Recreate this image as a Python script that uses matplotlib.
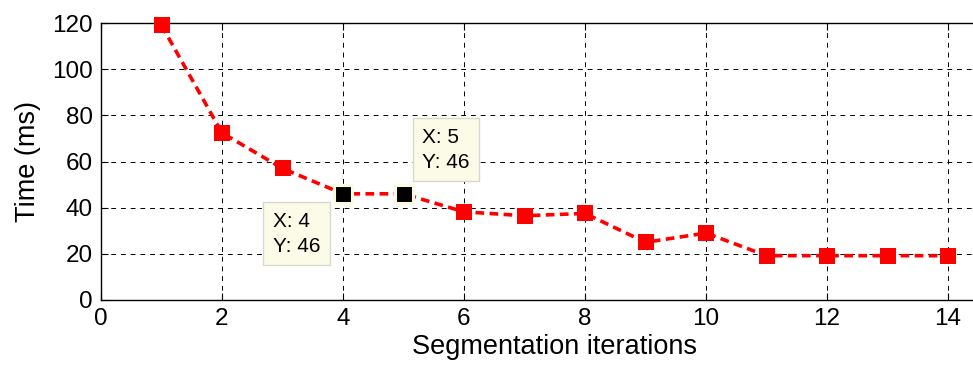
import matplotlib.pyplot as plt

plt.rcParams['font.family'] = ['Liberation Sans', 'DejaVu Sans']

# segmentation timing per iteration count
iterations = [1, 2, 3, 4, 5, 6, 7, 8, 9, 10, 11, 12, 13, 14]
time_ms = [119, 72.4, 57, 46, 46, 38.2, 36.5, 37.5, 25, 29, 19.2, 19.2, 19.2, 19.2]

# data tips: (x, y, text anchor in data coords)
tips = [(4, 46, (2.84, 38.3)), (5, 46, (5.31, 74.7))]

W, H = 973, 372
fig = plt.figure(figsize=(W / 100, H / 100), dpi=100)
ax = fig.add_axes([101 / W, 1 - 300 / H, 907.5 / W, 277 / H])

ax.plot(iterations, time_ms, color='red', linestyle=(0, (2.4, 1.5)), linewidth=2.6,
        marker='s', markersize=12, markeredgewidth=0, zorder=3, clip_on=False)

for x, y, (bx, by) in tips:
    ax.plot(x, y, marker='s', color='black', markersize=12.5,
            markeredgecolor='#fbfbe0', markeredgewidth=2.2, zorder=4)
    ax.text(bx, by, f'X: {x}\nY: {y}', fontsize=15, linespacing=1.4,
            va='top', ha='left', zorder=5,
            bbox=dict(boxstyle='square,pad=0.45', facecolor='#fbfbe8',
                      edgecolor='#d8d8d0', linewidth=1))

ax.set_xlim(0, 15)
ax.set_ylim(0, 120)
ax.set_xticks(range(0, 15, 2))
ax.set_yticks(range(0, 121, 20))
ax.grid(True, color='black', linestyle=(0, (5, 5)), linewidth=0.7)
ax.tick_params(direction='in', length=5, labelsize=17.5, top=True, right=True,
               width=0.8, pad=6)
for s in ax.spines.values():
    s.set_linewidth(1.0)

ax.set_xlabel('Segmentation iterations', fontsize=19.5, labelpad=3)
ax.set_ylabel('Time (ms)', fontsize=19.5, labelpad=8)

fig.savefig('out.png', dpi=100)
